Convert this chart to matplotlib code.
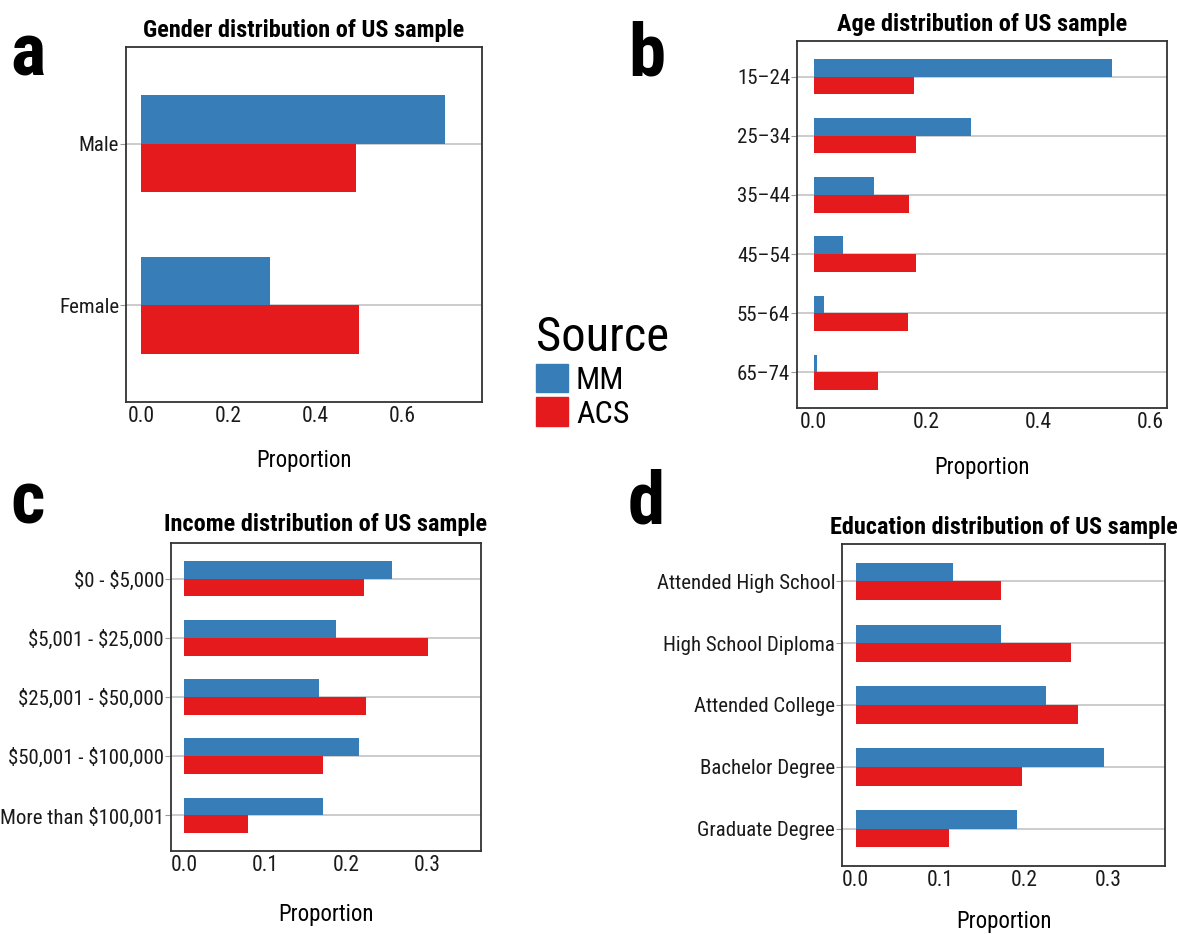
import matplotlib
matplotlib.use('Agg')
import matplotlib.pyplot as plt
from matplotlib.patches import Patch
import numpy as np

plt.rcParams['font.family'] = ['Roboto Condensed', 'Roboto', 'DejaVu Sans']

blue = '#377EB8'
red = '#E41A1C'

# data (top to bottom)
gender = ['Male', 'Female']
gender_mm = [0.700, 0.297]
gender_acs = [0.495, 0.501]

age = ['15–24', '25–34', '35–44', '45–54', '55–64', '65–74']
age_mm = [0.532, 0.281, 0.108, 0.052, 0.018, 0.006]
age_acs = [0.179, 0.182, 0.170, 0.182, 0.169, 0.114]

income = [r'\$0 - \$5,000', r'\$5,001 - \$25,000', r'\$25,001 - \$50,000',
          r'\$50,001 - \$100,000', r'More than \$100,001']
income_mm = [0.2575, 0.188, 0.1665, 0.216, 0.172]
income_acs = [0.2225, 0.301, 0.225, 0.172, 0.079]

edu = ['Attended High School', 'High School Diploma', 'Attended College',
       'Bachelor Degree', 'Graduate Degree']
edu_mm = [0.116, 0.172, 0.2255, 0.2946, 0.1915]
edu_acs = [0.173, 0.2555, 0.2634, 0.1974, 0.111]

W, H = 1177, 934
fig = plt.figure(figsize=(W / 100, H / 100), dpi=100)


def px_axes(x0, y0, x1, y1):
    return fig.add_axes([x0 / W, 1 - y1 / H, (x1 - x0) / W, (y1 - y0) / H])


def panel(ax, cats, mm, acs, xlim, xticks, title, ty, lp):
    n = len(cats)
    y = np.arange(n)[::-1]
    ax.barh(y + 0.15, mm, height=0.3, color=blue, zorder=2)
    ax.barh(y - 0.15, acs, height=0.3, color=red, zorder=2)
    ax.set_yticks(y)
    ax.set_yticklabels(cats, fontsize=15, color='#1a1a1a')
    ax.set_ylim(-0.6, n - 1 + 0.6)
    ax.set_xlim(*xlim)
    ax.set_xticks(xticks)
    ax.set_xticklabels(['%.1f' % t for t in xticks], fontsize=15.5, color='#1a1a1a')
    ax.grid(axis='y', color='#c8c8c8', linewidth=1.3, zorder=0)
    ax.set_axisbelow(True)
    for s in ax.spines.values():
        s.set_color('#333333')
        s.set_linewidth(1.3)
    ax.tick_params(axis='y', length=4, color='#999999', pad=1)
    ax.tick_params(axis='x', length=0, pad=3)
    ax.set_xlabel('Proportion', fontsize=16.5, labelpad=lp)
    ax.set_title(title, fontsize=17.5, fontweight='bold', pad=ty)


ax_a = px_axes(126, 47, 482, 402)
panel(ax_a, gender, gender_mm, gender_acs, (-0.0345, 0.784), [0.0, 0.2, 0.4, 0.6],
      'Gender distribution of US sample', 7, 15.5)

ax_b = px_axes(797, 41, 1167, 408)
panel(ax_b, age, age_mm, age_acs, (-0.0298, 0.630), [0.0, 0.2, 0.4, 0.6],
      'Age distribution of US sample', 7.5, 16.5)

ax_c = px_axes(171, 543, 481, 851)
panel(ax_c, income, income_mm, income_acs, (-0.0165, 0.367), [0.0, 0.1, 0.2, 0.3],
      'Income distribution of US sample', 8.5, 19)

ax_d = px_axes(842, 544, 1165, 866)
panel(ax_d, edu, edu_mm, edu_acs, (-0.0162, 0.367), [0.0, 0.1, 0.2, 0.3],
      'Education distribution of US sample', 7.5, 13.5)

# panel letters
for lab, x, y in [('a', 10, 75), ('b', 628, 75), ('c', 10, 524), ('d', 628, 524)]:
    fig.text(x / W, 1 - y / H, lab, fontsize=54, fontweight='bold', va='baseline')

# shared legend
handles = [Patch(color=blue, label='MM'), Patch(color=red, label='ACS')]
leg = fig.legend(handles=handles, title='Source', loc='upper left',
                 bbox_to_anchor=(520 / W, 1 - 299 / H), frameon=False,
                 fontsize=23, title_fontsize=35, handlelength=1.0, handleheight=1.0,
                 handletextpad=0.25, labelspacing=0.08, borderpad=0)
leg._legend_box.align = 'left'

fig.savefig('out.png', dpi=100)
